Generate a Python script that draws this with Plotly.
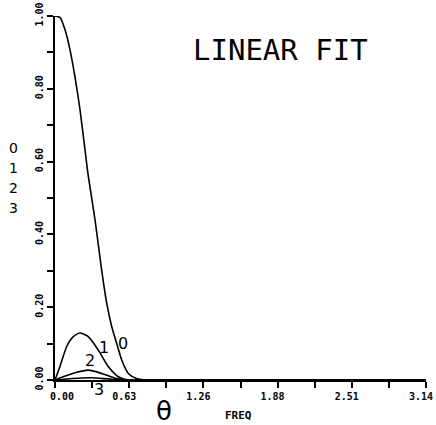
import plotly.graph_objects as go

# ---- data ----
theta0 = [0.0, 0.042, 0.085, 0.127, 0.169, 0.212, 0.254, 0.282, 0.339, 0.395, 0.438, 0.48, 0.522, 0.565, 0.621, 0.69, 0.76, 1.0, 3.1416]
curve0 = [1.0, 0.996, 0.962, 0.907, 0.833, 0.742, 0.632, 0.56, 0.44, 0.302, 0.211, 0.147, 0.101, 0.055, 0.018, 0.004, 0.0, 0.0, 0.0]

theta1 = [0.0, 0.042, 0.099, 0.155, 0.21, 0.282, 0.367, 0.451, 0.536, 0.62, 1.0, 3.1416]
curve1 = [0.0, 0.037, 0.092, 0.119, 0.129, 0.119, 0.082, 0.037, 0.009, 0.0, 0.0, 0.0]

theta2 = [0.0, 0.08, 0.169, 0.282, 0.395, 0.508, 0.60, 1.0, 3.1416]
curve2 = [0.0, 0.010, 0.020, 0.027, 0.018, 0.005, 0.0, 0.0, 0.0]

theta3 = [0.0, 0.15, 0.30, 0.45, 0.60, 1.0, 3.1416]
curve3 = [0.0, 0.004, 0.006, 0.003, 0.0, 0.0, 0.0]

x_tickvals = [0.0, 0.6283, 1.2566, 1.8850, 2.5133, 3.1416]
x_ticktext = ["\u00a0\u00a0\u00a0\u00a00.00", "0.63", "1.26", "1.88", "2.51", "3.14"]
y_tickvals = [0.0, 0.2, 0.4, 0.6, 0.8, 1.0]
y_ticktext = ["0.00", "0.20", "0.40", "0.60", "0.80", "1.00"]

curve_labels = ["0", "1", "2", "3"]
curve_label_px = [(123, 343), (104, 347), (90, 360), (99, 390)]

ytitle_chars = ["0", "1", "2", "3"]
ytitle_ypx = [148, 168, 188, 208]

fig = go.Figure()
for tx, cy in [(theta0, curve0), (theta1, curve1), (theta2, curve2), (theta3, curve3)]:
    fig.add_trace(go.Scatter(x=tx, y=cy, mode="lines",
                             line=dict(color="black", width=1.6, shape="spline", smoothing=0.6),
                             showlegend=False, hoverinfo="skip", cliponaxis=False))

tickfont = dict(family="DejaVu Sans Mono", size=10, color="black", weight="bold")

fig.update_xaxes(range=[0, 3.1416], tickvals=x_tickvals, ticktext=x_ticktext,
                 ticks="outside", ticklen=6, tickwidth=1.5, tickcolor="black",
                 showline=True, linecolor="black", linewidth=2, showgrid=False, zeroline=False,
                 tickfont=tickfont, automargin=False, ticklabeloverflow="allow",
                 ticklabelshift=-5,
                 minor=dict(tickvals=[0.3142, 0.9425, 1.5708, 2.1991, 2.8274],
                            ticks="outside", ticklen=6, tickwidth=1.5, tickcolor="black"))
fig.update_yaxes(range=[0, 1.0], tickvals=y_tickvals, ticktext=y_ticktext,
                 ticks="outside", ticklen=6, tickwidth=1.5, tickcolor="black", tickangle=-90,
                 showline=True, linecolor="black", linewidth=2, showgrid=False, zeroline=False,
                 tickfont=tickfont, automargin=False, ticklabeloverflow="allow",
                 minor=dict(tickvals=[0.1, 0.3, 0.5, 0.7, 0.9],
                            ticks="outside", ticklen=6, tickwidth=1.5, tickcolor="black"))


def px_to_paper(xp, yp):
    return (xp - 55) / 371, (380 - yp) / 364


annotations = []
for lab, (xp, yp) in zip(curve_labels, curve_label_px):
    ax, ay = px_to_paper(xp, yp)
    annotations.append(dict(x=ax, y=ay, xref="paper", yref="paper", text=lab, showarrow=False,
                            xanchor="center", yanchor="middle",
                            font=dict(family="DejaVu Sans", size=16, color="black")))
for ch, ypx in zip(ytitle_chars, ytitle_ypx):
    ax, ay = px_to_paper(13, ypx)
    annotations.append(dict(x=ax, y=ay, xref="paper", yref="paper",
                            text=ch, showarrow=False, xanchor="center", yanchor="middle",
                            font=dict(family="DejaVu Sans", size=14, color="black")))
ax, ay = px_to_paper(164, 411)
annotations.append(dict(x=ax, y=ay, xref="paper", yref="paper",
                        text="θ", showarrow=False, xanchor="center", yanchor="middle",
                        font=dict(family="DejaVu Sans", size=26, color="black")))
ax, ay = px_to_paper(238, 415)
annotations.append(dict(x=ax, y=ay, xref="paper", yref="paper",
                        text="FREQ", showarrow=False, xanchor="center", yanchor="middle",
                        font=dict(family="DejaVu Sans Mono", size=11, color="black", weight="bold")))
ax, ay = px_to_paper(280, 50)
annotations.append(dict(x=ax, y=ay, xref="paper", yref="paper",
                        text="LINEAR FIT", showarrow=False, xanchor="center", yanchor="middle",
                        font=dict(family="DejaVu Sans Mono", size=29, color="black")))

fig.update_layout(width=436, height=425, margin=dict(l=55, r=10, t=16, b=45),
                  plot_bgcolor="white", paper_bgcolor="white", annotations=annotations)

fig.write_html("out.html")
